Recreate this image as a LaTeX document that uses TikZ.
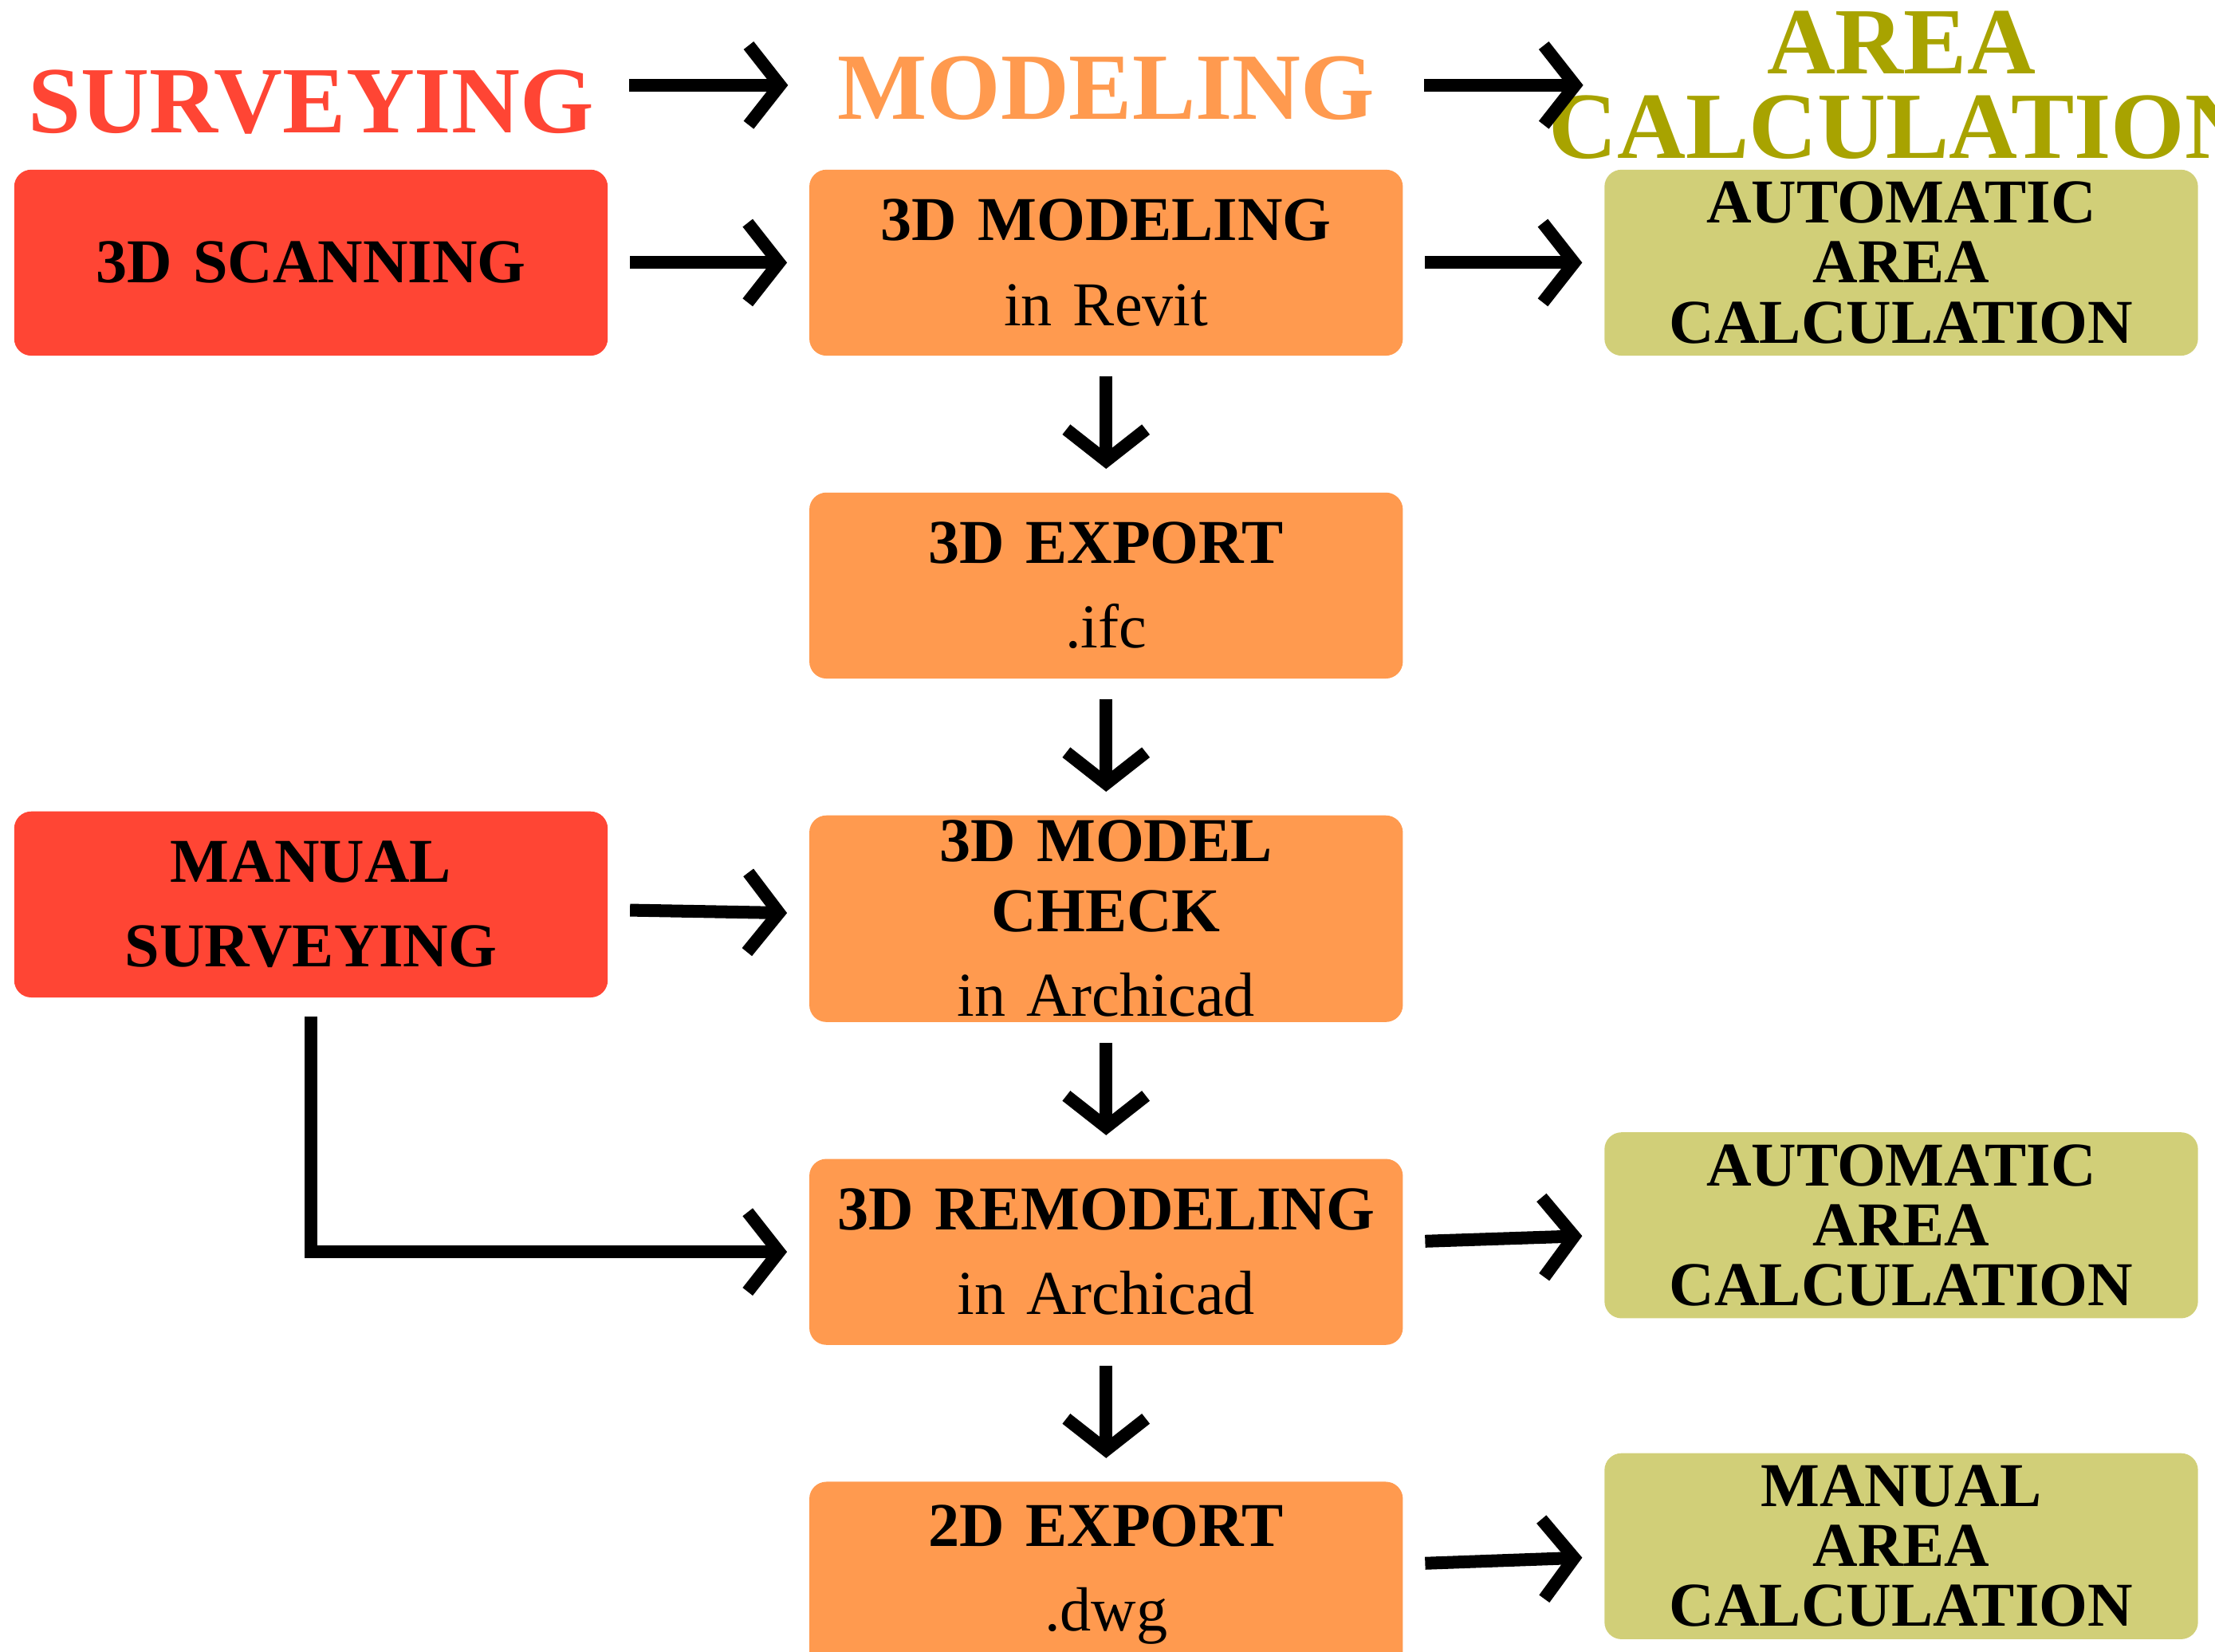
\documentclass[tikz,border=0pt]{standalone}
\usepackage{fontspec}
\setmainfont{Liberation Serif}
\usetikzlibrary{arrows.meta, positioning}
\definecolor{survred}{HTML}{FF4534}
\definecolor{modorange}{HTML}{FF9A4F}
\definecolor{areaolive}{HTML}{D1CF78}
\definecolor{areatext}{HTML}{A8A300}

\begin{document}
\begin{tikzpicture}[
    every node/.style={font=\bfseries\fontsize{12.5}{14}\selectfont},
    boxnode/.style={
        rectangle,
        rounded corners=0.12cm,
        minimum width=4.18cm,
        text width=4.1cm,
        minimum height=1.31cm,
        inner sep=1pt,
        align=center
    },
    headnode/.style={
        font=\bfseries\fontsize{19}{17}\selectfont,
        align=center
    },
    flow/.style={
        -{Straight Barb[length=2.2mm, width=5.6mm]},
        line width=0.09cm, black, line join=miter
    }
]
\useasboundingbox (0,0) rectangle (15.6,-11.63);

% headers
\node[headnode, text=survred] (surv) at (2.19,-0.72) {SURVEYING};
\node[headnode, text=modorange] (model) at (7.79,-0.62) {MODELING};
\node[headnode, text=areatext] (area) at (13.39,-0.6) {AREA\\CALCULATION};

% boxes
\node[boxnode, fill=survred] (scan) at (2.19,-1.85) {3D SCANNING};
\node[boxnode, fill=modorange] (revit) at (7.79,-1.85)
    {3D MODELING\\[3pt]\mdseries in Revit};
\node[boxnode, fill=areaolive] (auto1) at (13.39,-1.85)
    {AUTOMATIC\\[-2pt]AREA\\[-2pt]CALCULATION};
\node[boxnode, fill=modorange, below=0.95cm of revit] (ifc)
    {3D EXPORT\\[3pt]\mdseries .ifc};
\node[boxnode, fill=modorange, below=0.95cm of ifc] (check)
    {3D MODEL CHECK\\[3pt]\mdseries in Archicad};
\node[boxnode, fill=survred] (manual) at (2.19,-6.37)
    {MANUAL\\[3pt]SURVEYING};
\node[boxnode, fill=modorange, below=0.95cm of check] (remod)
    {3D REMODELING\\[3pt]\mdseries in Archicad};
\node[boxnode, fill=areaolive] (auto2) at (13.39,-8.63)
    {AUTOMATIC\\[-2pt]AREA\\[-2pt]CALCULATION};
\node[boxnode, fill=modorange, below=0.95cm of remod] (dwg)
    {2D EXPORT\\[3pt]\mdseries .dwg};
\node[boxnode, fill=areaolive] (manarea) at (13.39,-10.89)
    {MANUAL\\[-2pt]AREA\\[-2pt]CALCULATION};

% header arrows
\coordinate (h1) at (4.43,-0.6);
\coordinate (h2) at (5.55,-0.6);
\coordinate (h3) at (10.03,-0.6);
\coordinate (h4) at (11.15,-0.6);
\draw[flow] (h1) -- (h2);
\draw[flow] (h3) -- (h4);

% connectors
\draw[flow, shorten <=0.15cm, shorten >=0.15cm] (scan) -- (revit);
\draw[flow, shorten <=0.15cm, shorten >=0.15cm] (revit) -- (auto1);
\draw[flow, shorten <=0.14cm, shorten >=0.16cm] (revit) -- (ifc);
\draw[flow, shorten <=0.14cm, shorten >=0.16cm] (ifc) -- (check);
\draw[flow, shorten <=0.15cm, shorten >=0.15cm] (manual) -- (check);
\draw[flow, shorten <=0.14cm, shorten >=0.16cm] (check) -- (remod);
\draw[flow, shorten <=0.15cm, shorten >=0.15cm] (remod) -- (auto2);
\draw[flow, shorten <=0.14cm, shorten >=0.16cm] (remod) -- (dwg);
\draw[flow, shorten <=0.15cm, shorten >=0.15cm] (dwg) -- (manarea);
\draw[flow, shorten <=0.13cm, shorten >=0.15cm] (manual.south) |- (remod.west);

\end{tikzpicture}
\end{document}
